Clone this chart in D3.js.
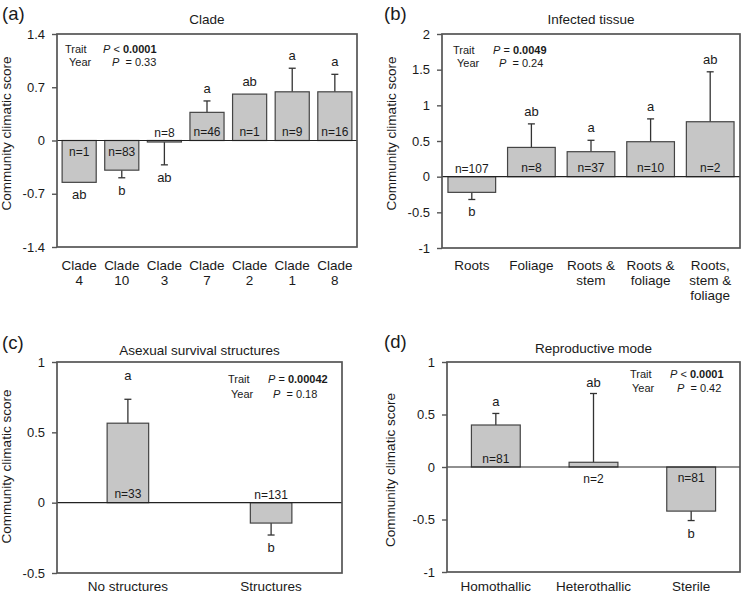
<!DOCTYPE html>
<html><head><meta charset="utf-8">
<script src="https://cdn.jsdelivr.net/npm/d3@7"></script>
<style>
body{margin:0;background:#fff}
svg{display:block;font-family:"Liberation Sans",Arial,Helvetica,sans-serif}
</style>
</head><body>
<svg id="chart" width="742" height="594"></svg>
<script>
// ---------- DATA ----------
// (a) Clade
const cladeCategories = ["Clade\n4","Clade\n10","Clade\n3","Clade\n7","Clade\n2","Clade\n1","Clade\n8"];
const cladeMeans      = [-0.55, -0.39, -0.02, 0.37, 0.61, 0.64, 0.64];
const cladeErrorEnds  = [null, -0.49, -0.32, 0.52, null, 0.95, 0.87];
const cladeN          = [1, 83, 8, 46, 1, 9, 16];
const cladeLetters    = ["ab","b","ab","a","ab","a","a"];
const cladeTicks      = [-1.4, -0.7, 0, 0.7, 1.4];
const cladeStats      = ["< ", "0.0001", "0.33"];

// (b) Infected tissue
const tissueCategories = ["Roots","Foliage","Roots &\nstem","Roots &\nfoliage","Roots,\nstem &\nfoliage"];
const tissueMeans      = [-0.22, 0.41, 0.35, 0.49, 0.77];
const tissueErrorEnds  = [-0.32, 0.74, 0.51, 0.81, 1.47];
const tissueN          = [107, 8, 37, 10, 2];
const tissueLetters    = ["b","ab","a","a","ab"];
const tissueTicks      = [-1, -0.5, 0, 0.5, 1, 1.5, 2];
const tissueStats      = ["= ", "0.0049", "0.24"];

// (c) Asexual survival structures
const asexCategories = ["No structures","Structures"];
const asexMeans      = [0.565, -0.145];
const asexErrorEnds  = [0.735, -0.23];
const asexN          = [33, 131];
const asexLetters    = ["a","b"];
const asexTicks      = [-0.5, 0, 0.5, 1];
const asexStats      = ["= ", "0.00042", "0.18"];

// (d) Reproductive mode
const reproCategories = ["Homothallic","Heterothallic","Sterile"];
const reproMeans      = [0.40, 0.045, -0.42];
const reproErrorEnds  = [0.51, 0.70, -0.51];
const reproN          = [81, 2, 81];
const reproLetters    = ["a","ab","b"];
const reproTicks      = [-1, -0.5, 0, 0.5, 1];
const reproStats      = ["< ", "0.0001", "0.42"];

// ---------- LAYOUT ----------
const panels = [
  {label:"(a)", labelX:2, labelY:20, title:"Clade", titleY:24,
   categories:cladeCategories, means:cladeMeans, errs:cladeErrorEnds, ns:cladeN, letters:cladeLetters,
   ticks:cladeTicks, domain:[-1.4,1.4], left:57, right:357, top:34, bottom:247, pi:0.2, po:0.12,
   stats:cladeStats, statPos:{tx:65, ty:53, tpx:103, yx:69, yy:66, ypx:112},
   yLabelX:11, yLabelY:133.5, xLabelOff:23, letterGap:8},
  {label:"(b)", labelX:384, labelY:20, title:"Infected tissue", titleY:24,
   categories:tissueCategories, means:tissueMeans, errs:tissueErrorEnds, ns:tissueN, letters:tissueLetters,
   ticks:tissueTicks, domain:[-1,2], left:442, right:740, top:34, bottom:248, pi:0.2, po:0.1,
   stats:tissueStats, statPos:{tx:453, ty:54, tpx:493, yx:457, yy:67, ypx:499},
   yLabelX:396, yLabelY:133.5, xLabelOff:22, letterGap:8},
  {label:"(c)", labelX:2, labelY:349, title:"Asexual survival structures", titleY:355,
   categories:asexCategories, means:asexMeans, errs:asexErrorEnds, ns:asexN, letters:asexLetters,
   ticks:asexTicks, domain:[-0.5,1], left:57, right:342, top:362, bottom:573, pi:0.71, po:0.35,
   stats:asexStats, statPos:{tx:228, ty:383, tpx:268, yx:231, yy:398, ypx:273},
   yLabelX:11, yLabelY:466.5, xLabelOff:18, letterGap:19},
  {label:"(d)", labelX:384, labelY:348, title:"Reproductive mode", titleY:353,
   categories:reproCategories, means:reproMeans, errs:reproErrorEnds, ns:reproN, letters:reproLetters,
   ticks:reproTicks, domain:[-1,1], left:447, right:740, top:362, bottom:572, pi:0.5, po:0.25,
   stats:reproStats, statPos:{tx:630, ty:378, tpx:670, yx:632, yy:392, ypx:677},
   yLabelX:395, yLabelY:470, xLabelOff:18.5, letterGap:7}
];

const svg = d3.select("#chart");
const TXT = "#1a1a1a";

function drawPanel(p) {
  const g = svg.append("g");
  const x = d3.scaleBand().domain(p.categories).range([p.left, p.right])
    .paddingInner(p.pi).paddingOuter(p.po);
  const y = d3.scaleLinear().domain(p.domain).range([p.bottom, p.top]);
  const y0 = y(0);
  const bw = x.bandwidth();
  const data = p.categories.map((c,i)=>({c, m:p.means[i], e:p.errs[i], n:p.ns[i], l:p.letters[i]}));

  // panel label and title
  g.append("text").attr("x",p.labelX).attr("y",p.labelY).attr("font-size",18.5).attr("fill",TXT).text(p.label);
  g.append("text").attr("x",(p.left+p.right)/2).attr("y",p.titleY).attr("text-anchor","middle")
    .attr("font-size",13.5).attr("fill",TXT).text(p.title);

  // y axis
  const ax = g.append("g").attr("transform",`translate(${p.left},0)`)
    .call(d3.axisLeft(y).tickValues(p.ticks).tickSize(5).tickPadding(7).tickFormat(d=>String(d)));
  ax.attr("font-family",null).attr("font-size",null);
  ax.select(".domain").remove();
  ax.selectAll(".tick line").attr("stroke","#555").attr("stroke-width",1.4);
  ax.selectAll(".tick text").attr("font-size",13).attr("fill",TXT);

  // y label
  g.append("text").attr("transform",`translate(${p.yLabelX},${p.yLabelY}) rotate(-90)`)
    .attr("text-anchor","middle").attr("font-size",13.5).attr("fill",TXT).text("Community climatic score");

  // error bars
  const eg = g.append("g").attr("stroke","#333").attr("stroke-width",1.3);
  data.filter(d=>d.e!==null).forEach(d=>{
    const cx = x(d.c)+bw/2;
    eg.append("line").attr("x1",cx).attr("x2",cx).attr("y1",y(d.m)).attr("y2",y(d.e));
    eg.append("line").attr("x1",cx-3.5).attr("x2",cx+3.5).attr("y1",y(d.e)).attr("y2",y(d.e));
  });

  // bars
  g.append("g").selectAll("rect").data(data).join("rect")
    .attr("x",d=>x(d.c)).attr("width",bw)
    .attr("y",d=>Math.min(y(d.m),y0)).attr("height",d=>Math.abs(y(d.m)-y0))
    .attr("fill","#c6c6c6").attr("stroke","#444").attr("stroke-width",1.2);

  // zero line
  g.append("line").attr("x1",p.left).attr("x2",p.right).attr("y1",y0).attr("y2",y0)
    .attr("stroke","#222").attr("stroke-width",1.1);

  // frame
  g.append("rect").attr("x",p.left).attr("y",p.top).attr("width",p.right-p.left).attr("height",p.bottom-p.top)
    .attr("fill","none").attr("stroke","#555").attr("stroke-width",1.7);

  // n labels
  data.forEach(d=>{
    const cx = x(d.c)+bw/2;
    const h = Math.abs(y(d.m)-y0);
    let ty;
    if (h > 22) ty = d.m > 0 ? y0-4.5 : y0+15;
    else ty = d.m > 0 ? y0+16 : y0-4;
    g.append("text").attr("x",cx).attr("y",ty).attr("text-anchor","middle")
      .attr("font-size",12).attr("fill",TXT).text("n="+d.n);
  });

  // letters
  data.forEach(d=>{
    const cx = x(d.c)+bw/2;
    const end = d.e!==null ? d.e : d.m;
    const ty = d.m >= 0 ? y(end)-p.letterGap : y(end)+17;
    g.append("text").attr("x",cx).attr("y",ty).attr("text-anchor","middle")
      .attr("font-size",13).attr("fill",TXT).text(d.l);
  });

  // x labels
  data.forEach(d=>{
    const cx = x(d.c)+bw/2;
    const t = g.append("text").attr("text-anchor","middle").attr("font-size",13.5).attr("fill",TXT);
    d.c.split("\n").forEach((line,k)=>{
      t.append("tspan").attr("x",cx).attr("y",p.bottom+p.xLabelOff+k*15).text(line);
    });
  });

  // stats
  const s = p.statPos;
  g.append("text").attr("x",s.tx).attr("y",s.ty).attr("font-size",11).attr("fill",TXT).text("Trait");
  const t1 = g.append("text").attr("x",s.tpx).attr("y",s.ty).attr("font-size",11).attr("fill",TXT).style("white-space","pre");
  t1.append("tspan").attr("font-style","italic").text("P");
  t1.append("tspan").text(" "+p.stats[0]);
  t1.append("tspan").attr("font-weight","bold").text(p.stats[1]);
  g.append("text").attr("x",s.yx).attr("y",s.yy).attr("font-size",11).attr("fill",TXT).text("Year");
  const t2 = g.append("text").attr("x",s.ypx).attr("y",s.yy).attr("font-size",11).attr("fill",TXT).style("white-space","pre");
  t2.append("tspan").attr("font-style","italic").text("P");
  t2.append("tspan").text("  = "+p.stats[2]);
}

panels.forEach(drawPanel);
</script>
</body></html>
